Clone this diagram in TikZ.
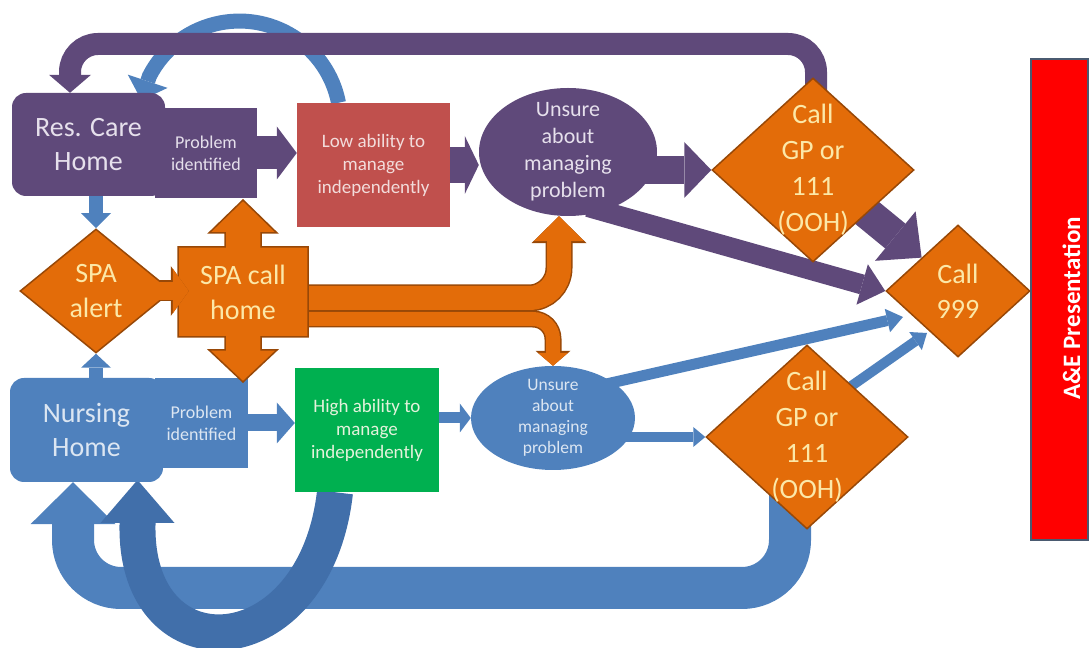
\documentclass[tikz,border=0pt]{standalone}
\usepackage{fontspec}
\setmainfont{Carlito}
\usetikzlibrary{shapes.geometric,arrows.meta}
\definecolor{purp}{HTML}{5F497A}
\definecolor{purptxt}{HTML}{E6E0EC}
\definecolor{bluec}{HTML}{4F81BD}
\definecolor{bluedk}{HTML}{416FAA}
\definecolor{bluetxt}{HTML}{DCE6F2}
\definecolor{redc}{HTML}{C0504D}
\definecolor{redtxt}{HTML}{F2DCDB}
\definecolor{greenc}{HTML}{00B050}
\definecolor{greentxt}{HTML}{E4F2DC}
\definecolor{orangec}{HTML}{E36C09}
\definecolor{odark}{HTML}{984807}
\definecolor{otxt}{HTML}{FCE8A8}
\definecolor{aered}{HTML}{FF0000}
\definecolor{aeline}{HTML}{4A5A70}
\pgfdeclarelayer{bg}
\pgfdeclarelayer{fg}
\pgfsetlayers{bg,main,fg}
\begin{document}
\begin{tikzpicture}[x=1pt, y=1pt,
  home node/.style={rounded corners=14pt, minimum width=153pt, inner sep=0pt, align=center, font=\fontsize{28}{34}\selectfont},
  prob node/.style={minimum width=93pt, minimum height=90pt, inner sep=0pt, align=center, font=\fontsize{18}{22}\selectfont},
  ability node/.style={minimum height=124pt, inner sep=0pt, align=center, font=\fontsize{19}{23}\selectfont},
  unsure node/.style={ellipse, inner sep=0pt},
  orange node/.style={diamond, fill=orangec, draw=odark, line width=1.5pt, inner sep=0pt},
  orange text/.style={text=otxt, align=center, font=\fontsize{28}{35}\selectfont},
  gp text/.style={text=otxt, align=center, font=\fontsize{28}{36}\selectfont},
  fat/.style n args={4}{draw=#1, line width=#2, -{Triangle[width=#3, length=#4, line width=0pt]}},
  obar/.style n args={6}{draw=orangec, line width=#1, -{Triangle[width=#2, length=#3, line width=0pt]},
    preaction={draw=odark, line width=#4, -{Triangle[width=#5, length=#6, line width=0pt]}}}]
\useasboundingbox (0,0) rectangle (1090,648);
\begin{scope}
\node[home node, fill=purp, text=purptxt, minimum height=103pt] (reshome) at (88.5,503.5) {Res. Care\\Home};
\node[prob node, fill=purp, text=purptxt, minimum width=102pt] (resprob) at (206,495) {Problem\\identified};
\node[ability node, fill=redc, text=redtxt, minimum width=153pt] (lowab) at (373.5,483) {Low ability to\\manage\\independently};
\node[unsure node, fill=purp, minimum width=178pt, minimum height=128pt,
  label={[text=purptxt, align=center, font=\fontsize{22}{27}\selectfont]center:Unsure\\about\\managing\\problem}] (unsureres) at (568,496) {};
\node[orange node, minimum width=202pt, minimum height=184pt, label={[gp text]center:Call\\GP or\\111\\(OOH)}] (topgp) at (813,478) {};
\node[orange node, minimum width=144pt, minimum height=132pt, label={[orange text]center:Call\\999}] (call999) at (958,357) {};
\node[orange node, minimum width=152pt, minimum height=124pt, label={[orange text]center:SPA\\alert}] (spaalert) at (96,357) {};
\node[home node, fill=bluec, text=bluetxt, minimum height=104pt] (nurs) at (86.5,218) {Nursing\\Home};
\node[prob node, fill=bluec, text=bluetxt] (nursprob) at (201.5,225) {Problem\\identified};
\node[ability node, fill=greenc, text=greentxt, minimum width=144pt] (highab) at (367,218) {High ability to\\manage\\independently};
\node[unsure node, fill=bluec, minimum width=164pt, minimum height=104pt,
  label={[text=bluetxt, align=center, font=\fontsize{17.5}{21}\selectfont]center:Unsure\\about\\managing\\problem}] (unsurenurs) at (553,230) {};
\node[orange node, minimum width=202pt, minimum height=184pt, label={[gp text]center:Call\\GP or\\111\\(OOH)}] (lowgp) at (807,211) {};
\node[fill=aered, draw=aeline, line width=1.5pt, minimum width=57pt, minimum height=481pt] (ae) at (1059.5,348.5) {};
\node[rotate=90, text=white, font=\fontsize{25}{30}\selectfont\bfseries] at ([xshift=12pt,yshift=-9pt]ae.center) {A\&E Presentation};
\draw[fill=orangec, draw=odark, line width=1.5pt, shift={(243,356)}] (-65,-45) -- (-65,45) -- (-18,45) -- (-18,59) -- (-34,59) -- (0,92) -- (34,59) -- (18,59) -- (18,45) -- (65,45) -- (65,-45) -- (18,-45) -- (18,-58) -- (34,-58) -- (0,-90) -- (-34,-58) -- (-18,-58) -- (-18,-45) -- cycle;
\node[orange text, minimum width=130pt, minimum height=90pt, inner sep=0pt] (spacall) at (243,356) {SPA call\\home};
\end{scope}
\begin{pgfonlayer}{bg}
\draw[fat={bluec}{15pt}{42pt}{20pt}] ([xshift=-35pt]lowab.north) arc[start angle=11, end angle=153, radius=101pt] -- ++(-8,-24);
\draw[fat={purp}{22pt}{42pt}{18pt}, rounded corners=28pt] ([xshift=3pt]topgp.center) -- ++(0,126) -| ([xshift=-18.5pt]reshome.north);
\draw[fat={bluec}{42pt}{85pt}{42pt}, rounded corners=48pt] ([xshift=-17pt]lowgp.center) -- ++(0,-151) -| ([xshift=-13.5pt]nurs.south);
\draw[fat={bluedk}{36pt}{74pt}{43pt}] ([xshift=-32pt]highab.south) .. controls (315,-20) and (135,-30) .. (137.5,123) -- ++(0,45);
\draw[fat={purp}{33pt}{53pt}{20pt}] (resprob.east) -- (resprob.east -| lowab.west);
\draw[fat={purp}{36pt}{58pt}{14pt}] (lowab.east) -- (lowab.east -| unsureres.west);
\draw[fat={purp}{28pt}{56pt}{27pt}] (unsureres.center |- topgp.west) -- (topgp.west);
\draw[fat={purp}{20pt}{42pt}{24pt}] ([shift={(20pt,-55pt)}]unsureres.center) -- (call999.west);
\draw[fat={purp}{32pt}{64pt}{34pt}] ([shift={(20pt,-15pt)}]topgp.center) -- (call999.north west);
\draw[fat={bluec}{17pt}{41pt}{18pt}] (nursprob.east) -- (nursprob.east -| highab.west);
\draw[fat={bluec}{11pt}{29pt}{11pt}] (unsurenurs.west -| highab.east) -- (unsurenurs.west);
\draw[fat={bluec}{10pt}{20pt}{12pt}] (unsurenurs.center |- lowgp.west) -- (lowgp.west);
\draw[fat={bluec}{11pt}{24pt}{16pt}] ([shift={(40pt,31pt)}]unsurenurs.center) -- ([shift={(-55pt,-26pt)}]call999.center);
\draw[fat={bluec}{10pt}{22pt}{14pt}] ([shift={(13pt,29pt)}]lowgp.center) -- ([shift={(-31pt,-42pt)}]call999.center);
\draw[fat={bluec}{14pt}{30pt}{15pt}] (spaalert.north |- reshome.south) -- (spaalert.north);
\draw[fat={bluec}{14pt}{30pt}{14pt}] (spaalert.south |- nurs.north) -- (spaalert.south);
\draw[obar={14pt}{30pt}{13pt}{17pt}{35pt}{15pt}, rounded corners=20pt] ([yshift=-27pt]spacall.east) -| (unsurenurs.north);
\draw[obar={24pt}{50pt}{25pt}{27pt}{55pt}{27pt}, rounded corners=30pt] ([yshift=-6pt]spacall.east) -| ([xshift=-9pt]unsureres.south);
\end{pgfonlayer}
\begin{pgfonlayer}{fg}
\draw[obar={18pt}{45pt}{16pt}{21pt}{50pt}{18pt}] ([xshift=-14pt]spaalert.east) -- ++(30,0);
\end{pgfonlayer}
\end{tikzpicture}
\end{document}
